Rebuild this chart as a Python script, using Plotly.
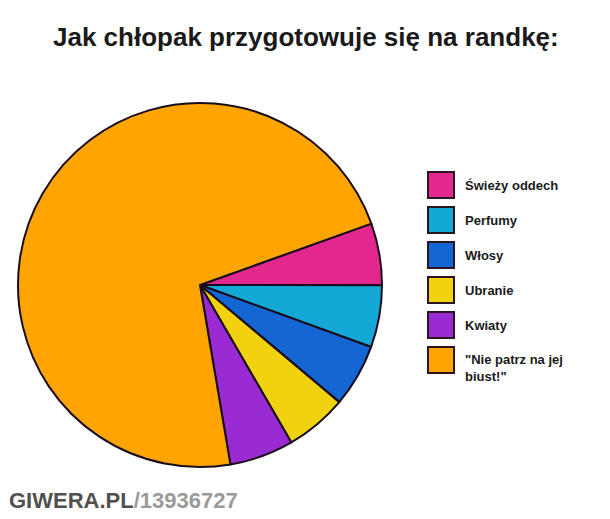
import plotly.graph_objects as go

labels = ["Świeży oddech", "Perfumy", "Włosy", "Ubranie", "Kwiaty", "\"Nie patrz na jej<br>biust!\""]
values = [5.5, 5.5, 5.6, 5.5, 5.7, 72.2]
colors = ["#E2288E", "#14A8D6", "#1466D2", "#F0D20E", "#9A2AD2", "#FFA502"]

title_text = "Jak chłopak przygotowuje się na randkę:"
wm_dark = "GIWERA.PL"
wm_light = "/13936727"

W, H = 610, 519
cx, cy, r = 200, 285, 182
FONT = "Liberation Sans, Arial, sans-serif"

def px(x):
    return x / W

def py(y):
    return 1 - y / H

fig = go.Figure(go.Pie(
    labels=labels,
    values=values,
    sort=False,
    direction="clockwise",
    rotation=70.3,
    marker=dict(colors=colors, line=dict(color="#1a0c1c", width=2)),
    textinfo="none",
    hoverinfo="label+percent",
    domain=dict(x=[px(cx - r), px(cx + r)], y=[py(cy + r), py(cy - r)]),
    showlegend=False,
))

shapes = []
annotations = []
box_left, box_size, text_x = 428, 26, 463
y0, step = 185, 35
for i, (lab, col) in enumerate(zip(labels, colors)):
    yc = y0 + i * step
    shapes.append(dict(type="rect", xref="paper", yref="paper",
                       x0=px(box_left), x1=px(box_left + box_size),
                       y0=py(yc + box_size / 2), y1=py(yc - box_size / 2),
                       fillcolor=col, line=dict(color="#2a1420", width=2)))
    multiline = "<br>" in lab
    annotations.append(dict(x=px(text_x), y=py(yc - 10 if multiline else yc), xref="paper", yref="paper",
                            text="<b>" + lab + "</b>", showarrow=False,
                            xanchor="left", yanchor="top" if multiline else "middle",
                            align="left",
                            font=dict(family=FONT, size=13, color="#1a1a1a")))

annotations.append(dict(x=px(306), y=py(37), xref="paper", yref="paper",
                        text="<b>" + title_text + "</b>", showarrow=False,
                        xanchor="center", yanchor="middle",
                        font=dict(family=FONT, size=26, color="#1a1a1a")))

annotations.append(dict(x=px(7), y=py(500), xref="paper", yref="paper",
                        text="<b><span style='color:#505050'>" + wm_dark + "</span><span style='color:#9a9a9a'>" + wm_light + "</span></b>",
                        showarrow=False, xanchor="left", yanchor="middle",
                        font=dict(family=FONT, size=22, color="#505050")))

fig.update_layout(
    width=W, height=H,
    margin=dict(l=0, r=0, t=0, b=0),
    paper_bgcolor="white",
    plot_bgcolor="white",
    shapes=shapes,
    annotations=annotations,
)

fig.write_html("out.html", config={"displayModeBar": False},
               post_script="document.body.style.margin='0';")
